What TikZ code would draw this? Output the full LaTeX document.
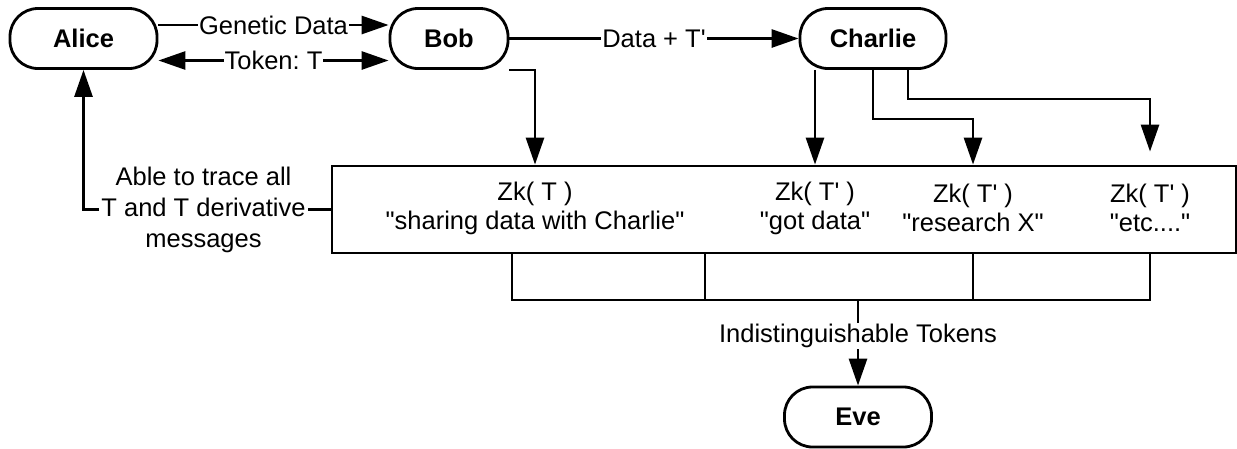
\documentclass[tikz,border=0pt]{standalone}
\usepackage{fontspec}
\setmainfont{Liberation Sans}
\usepackage{tikz}
\usetikzlibrary{arrows.meta}
\newcommand{\Tq}{T\textquotesingle}
\newcommand{\qt}[1]{\textquotedbl#1\textquotedbl}
\frenchspacing

\begin{document}
\begin{tikzpicture}[x=1pt,y=-1pt,line width=2.8pt,font=\fontsize{25.5}{29}\selectfont,
  actor/.style={draw,rounded corners=28pt,minimum height=60pt,inner sep=0pt,font=\fontsize{25.5}{29}\selectfont\bfseries},
  lbl/.style={fill=white,inner sep=1pt},
  tok/.style={align=center,inner sep=0pt},
  flow/.style={-{Triangle[length=27pt,width=18pt]}},
  both/.style={{Triangle[length=27pt,width=18pt]}-{Triangle[length=27pt,width=18pt]}}]
\useasboundingbox (0,0) rectangle (1237,448);
% ---------------- parties ----------------
\node[actor,minimum width=147pt] (Alice) at (83.5,38.5) {Alice};
\node[actor,minimum width=118pt] (Bob) at (449,38.5) {Bob};
\node[actor,minimum width=146pt] (Charlie) at (873,38.5) {Charlie};
\node[actor,minimum width=147pt] (Eve) at (858,417) {Eve};
% ---------------- token box ----------------
\node[draw,minimum width=904pt,minimum height=87pt,inner sep=0pt] (zkbox) at (784,209.5) {};
\node[tok] (tok1) at (535,208) {Zk( T )\\\qt{sharing data with Charlie}};
\node[tok] (tok2) at (815,208) {Zk( \Tq{} )\\\qt{got data}};
\node[tok] (tok3) at (973,208) {Zk( \Tq{} )\\\qt{research X}};
\node[tok] (tok4) at (1150,208) {Zk( \Tq{} )\\\qt{etc....}};
\node[tok,inner sep=1pt,font=\fontsize{25.5}{31}\selectfont] (trace) at (203.5,209.5)
  {Able to trace all\\T and T derivative\\messages};
% ---------------- exchanges ----------------
\draw[flow] ([yshift=13.5pt]Alice.east) -- node[lbl]{Genetic Data} ([yshift=13.5pt]Bob.west);
\draw[both] ([yshift=-22pt]Alice.east) -- node[lbl]{Token: T} ([yshift=-22pt]Bob.west);
\draw[flow] (Bob.east) -- node[lbl]{Data + \Tq{}} (Charlie.west);
\draw[flow] (Bob.south east) -| (tok1 |- zkbox.north);
\draw[flow] (tok2 |- Charlie.south) -- (tok2 |- zkbox.north);
\draw[flow] (Charlie.south) -- ++(0,49) -| (tok3 |- zkbox.north);
\draw[flow] ([xshift=35pt]Charlie.south) -- ++(0,29) -| ([yshift=13pt]zkbox.north -| tok4);
\draw (zkbox.west) -- (trace.east);
\draw[flow] (trace.west) -| (Alice.south);
% ---------------- bus to Eve ----------------
\foreach \i/\bx in {1/512,2/705,3/973,4/1150}
  \coordinate (b\i) at (\bx,300);
\coordinate (bus) at (858,300);
\draw (zkbox.south -| b1) -- (b1) -- (b4) -- (zkbox.south -| b4);
\foreach \i in {2,3}
  \draw (zkbox.south -| b\i) -- (b\i);
\draw[flow] (bus) -- node[lbl,pos=0.42]{Indistinguishable Tokens} (Eve);
\end{tikzpicture}
\end{document}
